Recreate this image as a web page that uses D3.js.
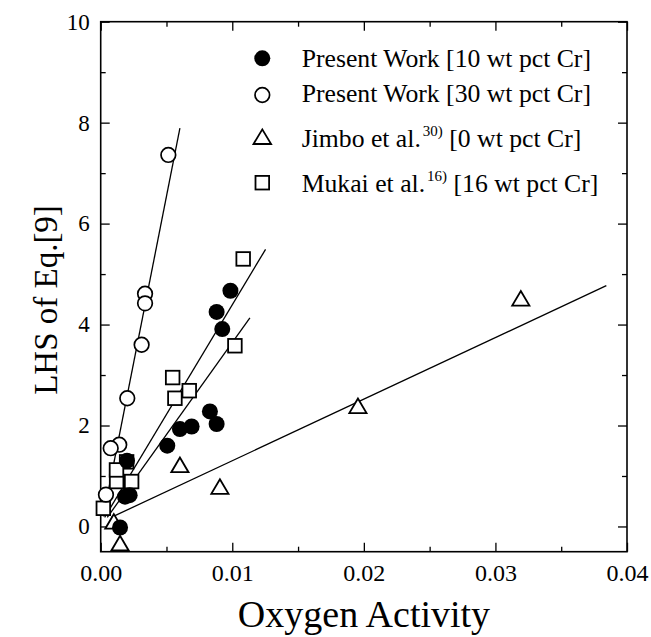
<!DOCTYPE html>
<html>
<head>
<meta charset="utf-8">
<script src="https://cdn.jsdelivr.net/npm/d3@7"></script>
<style>
  html, body { margin: 0; padding: 0; background: #fff; }
  svg { display: block; }
  text { font-family: "Liberation Serif", "Times New Roman", serif; fill: #000; }
</style>
</head>
<body>
<svg id="chart" width="651" height="637"></svg>
<script>
// ---- data ----
const xTickValues = [0, 0.01, 0.02, 0.03, 0.04];
const xTickLabels = ["0.00", "0.01", "0.02", "0.03", "0.04"];
const xMinorTicks = [0.005, 0.015, 0.025, 0.035];
const yTickValues = [0, 2, 4, 6, 8, 10];
const yTickLabels = ["0", "2", "4", "6", "8", "10"];
const yMinorTicks = [1, 3, 5, 7, 9];

// Present Work [10 wt pct Cr] (filled circles): [oxygen activity, LHS]
const present10 = [
  [0.00986, 4.67], [0.00881, 4.25], [0.00924, 3.91], [0.00830, 2.28],
  [0.00881, 2.03], [0.00691, 1.98], [0.00602, 1.93], [0.00506, 1.60],
  [0.00200, 1.30], [0.00185, 0.59], [0.00220, 0.62], [0.00147, -0.02]
];
// Present Work [30 wt pct Cr] (open circles)
const present30 = [
  [0.00514, 7.36], [0.00337, 4.61], [0.00337, 4.42], [0.00311, 3.60],
  [0.00202, 2.54], [0.00141, 1.62], [0.00076, 1.55], [0.00040, 0.63]
];
// Jimbo et al. [0 wt pct Cr] (triangles)
const jimbo0 = [
  [0.03193, 4.52], [0.01955, 2.39], [0.00906, 0.79], [0.00602, 1.22],
  [0.00147, -0.33], [0.00100, 0.10]
];
// Mukai et al. [16 wt pct Cr] (squares)
const mukai16 = [
  [0.01083, 5.30], [0.01020, 3.58], [0.00547, 2.95], [0.00564, 2.54],
  [0.00673, 2.69], [0.00197, 1.28], [0.00121, 0.89], [0.00235, 0.89],
  [0.00020, 0.36], [0.00120, 1.12]
];

// fitted straight lines: start and end [x, y]
const fitNames = ["30 wt pct Cr", "10 wt pct Cr", "16 wt pct Cr", "0 wt pct Cr"];
const fitStart = [[0.0002, 0.20], [0.0003, 0.18], [0.0005, 0.18], [0.0008, 0.18]];
const fitEnd   = [[0.00602, 7.89], [0.01253, 5.49], [0.01134, 4.13], [0.03843, 4.77]];

const legendLabels = [
  { main: "Present Work [10 wt pct Cr]", sup: null, tail: null },
  { main: "Present Work [30 wt pct Cr]", sup: null, tail: null },
  { main: "Jimbo et al.", sup: "30)", tail: " [0 wt pct Cr]" },
  { main: "Mukai et al.", sup: "16)", tail: " [16 wt pct Cr]" }
];

// ---- layout ----
const W = 651, H = 637;
const margin = { left: 100.7, right: 24, top: 21.7, bottom: 85.3 };
const iw = W - margin.left - margin.right;
const ih = H - margin.top - margin.bottom;

const svg = d3.select("#chart");
const g = svg.append("g").attr("transform", `translate(${margin.left},${margin.top})`);

const x = d3.scaleLinear().domain([0, 0.04]).range([0, iw]);
const y = d3.scaleLinear().domain([-0.5, 10]).range([ih, 0]);

// axes (ticks pointing inward on all four sides)
const major = 9, minor = 5;
function styleAxis(sel) {
  sel.select(".domain").remove();
  sel.selectAll(".tick line").attr("stroke", "#000").attr("stroke-width", 1.3);
}
g.append("g").attr("transform", `translate(0,${ih})`)
  .call(d3.axisBottom(x).tickValues(xTickValues).tickSize(-major).tickPadding(12)
    .tickFormat((d, i) => xTickLabels[i]))
  .call(styleAxis)
  .call(s => s.selectAll("text").attr("font-size", 24).attr("font-family", "Liberation Serif"));
g.append("g").attr("transform", `translate(0,${ih})`)
  .call(d3.axisBottom(x).tickValues(xMinorTicks).tickSize(-minor).tickFormat(""))
  .call(styleAxis);
g.append("g")
  .call(d3.axisTop(x).tickValues(xTickValues).tickSize(-major).tickFormat(""))
  .call(styleAxis);
g.append("g")
  .call(d3.axisTop(x).tickValues(xMinorTicks).tickSize(-minor).tickFormat(""))
  .call(styleAxis);

g.append("g")
  .call(d3.axisLeft(y).tickValues(yTickValues).tickSize(-major).tickPadding(11)
    .tickFormat((d, i) => yTickLabels[i]))
  .call(styleAxis)
  .call(s => s.selectAll("text").attr("font-size", 23).attr("font-family", "Liberation Serif"));
g.append("g")
  .call(d3.axisLeft(y).tickValues(yMinorTicks).tickSize(-minor).tickFormat(""))
  .call(styleAxis);
g.append("g").attr("transform", `translate(${iw},0)`)
  .call(d3.axisRight(y).tickValues(yTickValues).tickSize(-major).tickFormat(""))
  .call(styleAxis);
g.append("g").attr("transform", `translate(${iw},0)`)
  .call(d3.axisRight(y).tickValues(yMinorTicks).tickSize(-minor).tickFormat(""))
  .call(styleAxis);

// frame
g.append("rect").attr("x", 0).attr("y", 0).attr("width", iw).attr("height", ih)
  .attr("fill", "none").attr("stroke", "#000").attr("stroke-width", 1.6);

// fitted lines
g.selectAll("line.fit").data(fitNames).enter().append("line")
  .attr("class", "fit")
  .attr("x1", (d, i) => x(fitStart[i][0])).attr("y1", (d, i) => y(fitStart[i][1]))
  .attr("x2", (d, i) => x(fitEnd[i][0])).attr("y2", (d, i) => y(fitEnd[i][1]))
  .attr("stroke", "#000").attr("stroke-width", 1.3);

// markers
function drawCircles(data, filled) {
  g.append("g").selectAll("circle").data(data).enter().append("circle")
    .attr("cx", d => x(d[0])).attr("cy", d => y(d[1])).attr("r", filled ? 8 : 7.3)
    .attr("fill", filled ? "#000" : "#fff").attr("stroke", "#000").attr("stroke-width", filled ? 0 : 1.7);
}
function drawSquares(data) {
  g.append("g").selectAll("rect").data(data).enter().append("rect")
    .attr("x", d => x(d[0]) - 6.8).attr("y", d => y(d[1]) - 6.8)
    .attr("width", 13.6).attr("height", 13.6)
    .attr("fill", "#fff").attr("stroke", "#000").attr("stroke-width", 1.8);
}
function drawTriangles(data) {
  g.append("g").selectAll("path").data(data).enter().append("path")
    .attr("d", "M0,-7.3L8.6,7.3L-8.6,7.3Z")
    .attr("transform", d => `translate(${x(d[0])},${y(d[1])})`)
    .attr("fill", "#fff").attr("stroke", "#000").attr("stroke-width", 1.8);
}
drawSquares(mukai16);
drawTriangles(jimbo0);
drawCircles(present30, false);
drawCircles(present10, true);

// legend (pixel layout)
const legMarkerX = 262.3, legTextX = 301.7;
const legMarkerY = [58.3, 95, 136.7, 182.7];
const legTextY = [66.7, 102, 146.7, 191.7];
const leg = svg.append("g");
leg.append("circle").attr("cx", legMarkerX).attr("cy", legMarkerY[0]).attr("r", 8).attr("fill", "#000");
leg.append("circle").attr("cx", legMarkerX).attr("cy", legMarkerY[1]).attr("r", 7.3)
  .attr("fill", "#fff").attr("stroke", "#000").attr("stroke-width", 1.7);
leg.append("path").attr("d", "M0,-7.3L8.8,7.3L-8.8,7.3Z")
  .attr("transform", `translate(${legMarkerX},${legMarkerY[2]})`)
  .attr("fill", "#fff").attr("stroke", "#000").attr("stroke-width", 1.8);
leg.append("rect").attr("x", legMarkerX - 6.8).attr("y", legMarkerY[3] - 6.8)
  .attr("width", 13.6).attr("height", 13.6)
  .attr("fill", "#fff").attr("stroke", "#000").attr("stroke-width", 1.8);

legendLabels.forEach((L, i) => {
  const t = leg.append("text").attr("x", legTextX).attr("y", legTextY[i]).attr("font-size", 25.7);
  t.append("tspan").text(L.main);
  if (L.sup) {
    t.append("tspan").attr("font-size", 15).attr("dy", -11).attr("dx", 2).text(L.sup);
    t.append("tspan").attr("dy", 11).text(L.tail);
  }
});

// axis titles
svg.append("text").attr("x", 364).attr("y", 627).attr("text-anchor", "middle")
  .attr("font-size", 38).text("Oxygen Activity");
svg.append("text").attr("transform", "translate(57,300) rotate(-90)").attr("text-anchor", "middle")
  .attr("font-size", 33).text("LHS of Eq.[9]");
</script>
</body>
</html>
